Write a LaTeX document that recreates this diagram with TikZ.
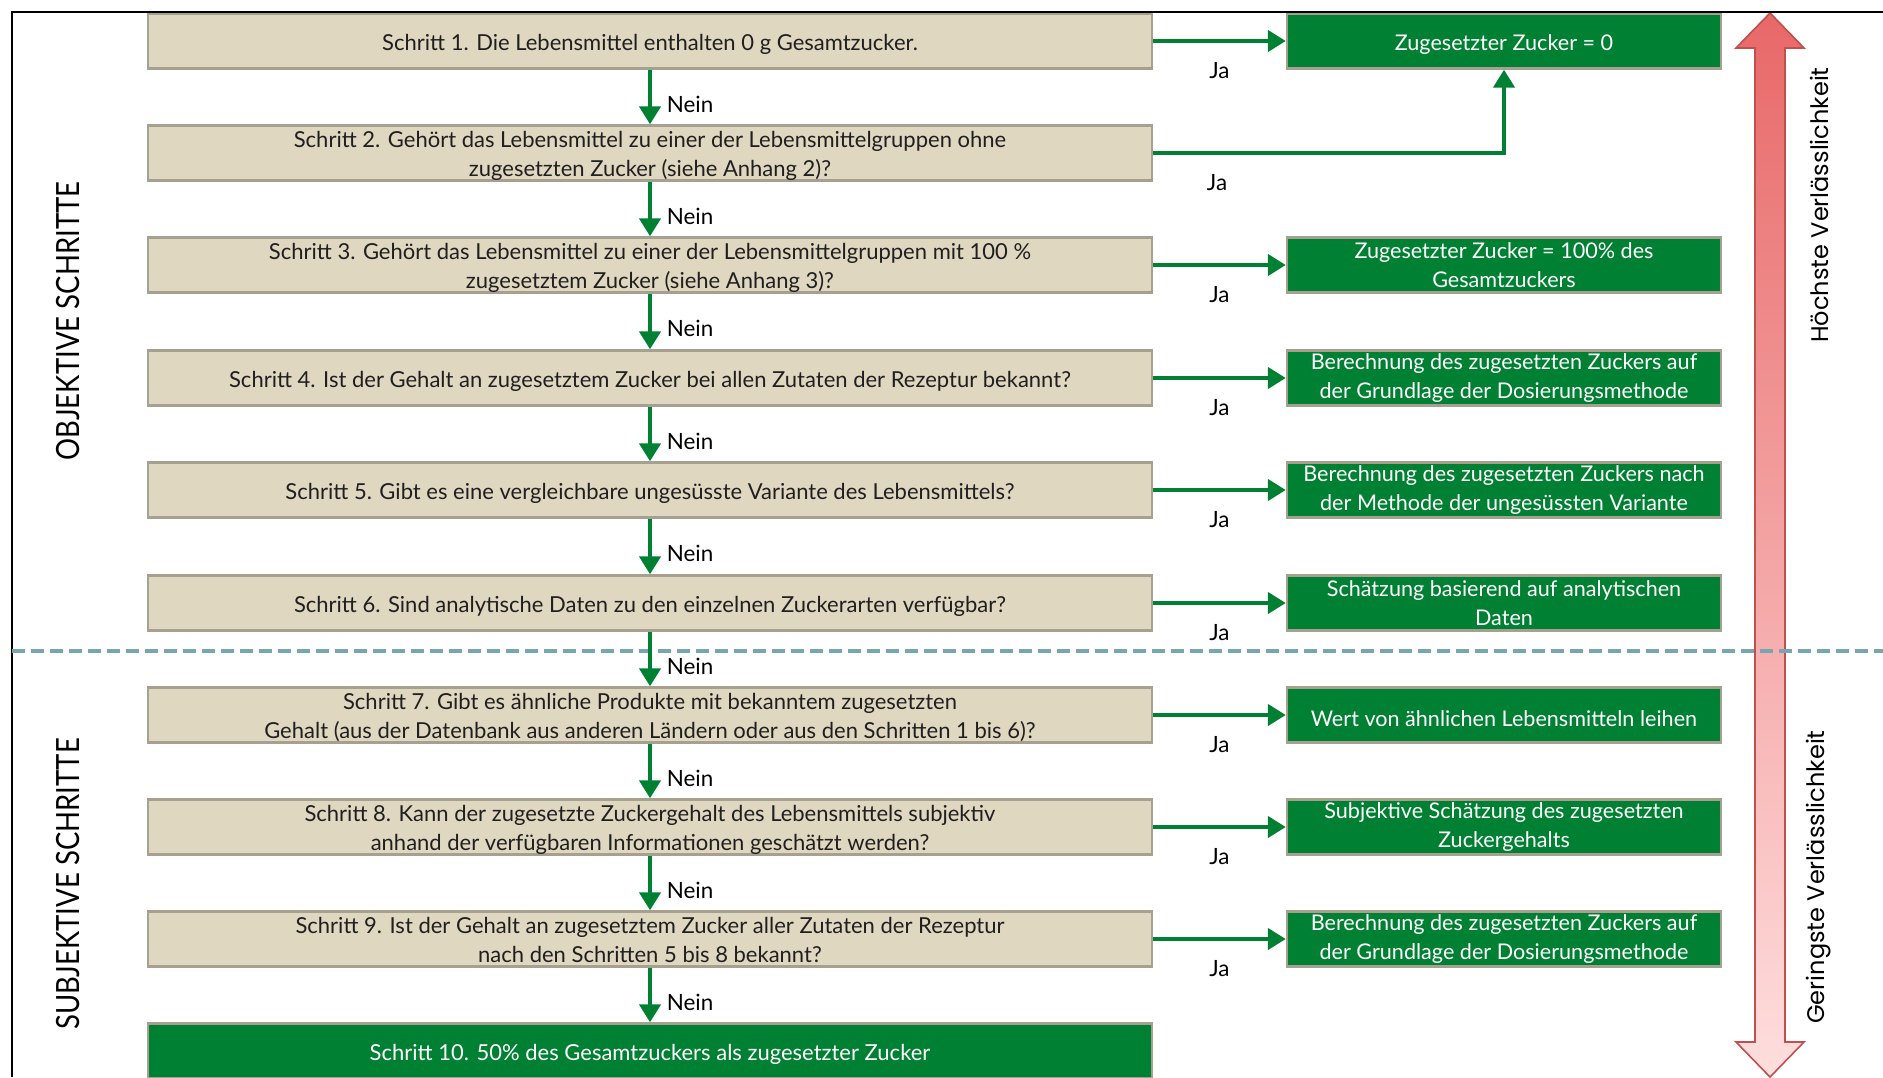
\documentclass[tikz,border=0pt]{standalone}
\usepackage{fontspec}
\setmainfont{Lato}
\newfontfamily\capsfont[FakeStretch=0.86]{Lato}
\newfontfamily\gothicfont{Poppins}
\usetikzlibrary{arrows.meta}
\definecolor{beige}{RGB}{224,215,192}
\definecolor{beigeline}{RGB}{166,160,145}
\definecolor{flowgreen}{RGB}{0,128,50}
\definecolor{dashblue}{RGB}{120,166,174}
\definecolor{redtop}{RGB}{232,104,104}
\definecolor{redbottom}{RGB}{255,222,222}
\definecolor{redline}{RGB}{192,80,77}
\tikzstyle{box}=[draw=beigeline, line width=1.2pt, minimum height=27.5pt, inner sep=0pt, align=center, execute at begin node={\rule{0pt}{11.5pt}}]
\tikzstyle{stepbox}=[box, fill=beige, text=black!88, minimum width=502pt, font=\fontsize{11}{14.5}\selectfont]
\tikzstyle{twoline}=[text height=25.5pt, text depth=2pt]
\tikzstyle{finalbox}=[box, fill=flowgreen, text=white, minimum width=502pt, font=\fontsize{11}{14.5}\selectfont]
\tikzstyle{resultbox}=[box, fill=flowgreen, text=white, minimum width=217pt, font=\fontsize{10.8}{14.5}\selectfont]
\tikzstyle{flow}=[draw=flowgreen, line width=2.2pt, -{Triangle[length=9pt,width=10.5pt]}]
\tikzstyle{nein}=[anchor=west, pos=0.63, xshift=4pt, font=\fontsize{11.2}{14}\selectfont]
\tikzstyle{ja}=[yshift=-15pt, font=\fontsize{11.2}{14}\selectfont]
\tikzstyle{sidelabel}=[rotate=90, font=\capsfont\fontsize{16}{18}\selectfont]
\tikzstyle{trustlabel}=[rotate=90, font=\gothicfont\fontsize{12}{14}\selectfont]

\begin{document}
\begin{tikzpicture}[x=0.5pt, y=-0.5pt]
      \useasboundingbox (0, 0) rectangle (1883, 1077);
      % steps
      \node[stepbox] (step1) at (650, 41) {Schritt 1. Die Lebensmittel enthalten 0 g Gesamtzucker.};
      \node[stepbox, twoline] (step2) at (650, 153) {Schritt 2. Gehört das Lebensmittel zu einer der Lebensmittelgruppen ohne\\zugesetzten Zucker (siehe Anhang 2)?};
      \node[stepbox, twoline] (step3) at (650, 265) {Schritt 3. Gehört das Lebensmittel zu einer der Lebensmittelgruppen mit 100 \%\\zugesetztem Zucker (siehe Anhang 3)?};
      \node[stepbox] (step4) at (650, 378) {Schritt 4. Ist der Gehalt an zugesetztem Zucker bei allen Zutaten der Rezeptur bekannt?};
      \node[stepbox] (step5) at (650, 490) {Schritt 5. Gibt es eine vergleichbare ungesüsste Variante des Lebensmittels?};
      \node[stepbox] (step6) at (650, 603) {Schritt 6. Sind analytische Daten zu den einzelnen Zuckerarten verfügbar?};
      \node[stepbox, twoline] (step7) at (650, 715) {Schritt 7. Gibt es ähnliche Produkte mit bekanntem zugesetzten\\Gehalt (aus der Datenbank aus anderen Ländern oder aus den Schritten 1 bis 6)?};
      \node[stepbox, twoline] (step8) at (650, 827) {Schritt 8. Kann der zugesetzte Zuckergehalt des Lebensmittels subjektiv\\anhand der verfügbaren Informationen geschätzt werden?};
      \node[stepbox, twoline] (step9) at (650, 939) {Schritt 9. Ist der Gehalt an zugesetztem Zucker aller Zutaten der Rezeptur\\nach den Schritten 5 bis 8 bekannt?};
      \node[finalbox] (step10) at (650, 1051) {Schritt 10. 50\% des Gesamtzuckers als zugesetzter Zucker};
      % outcomes
      \node[resultbox] (res1) at (1504, 41) {Zugesetzter Zucker = 0};
      \node[resultbox] (res3) at (1504, 265) {Zugesetzter Zucker = 100\% des\\Gesamtzuckers};
      \node[resultbox] (res4) at (1504, 378) {Berechnung des zugesetzten Zuckers auf\\der Grundlage der Dosierungsmethode};
      \node[resultbox] (res5) at (1504, 490) {Berechnung des zugesetzten Zuckers nach\\der Methode der ungesüssten Variante};
      \node[resultbox] (res6) at (1504, 603) {Schätzung basierend auf analytischen\\Daten};
      \node[resultbox] (res7) at (1504, 715) {Wert von ähnlichen Lebensmitteln leihen};
      \node[resultbox] (res8) at (1504, 827) {Subjektive Schätzung des zugesetzten\\Zuckergehalts};
      \node[resultbox] (res9) at (1504, 939) {Berechnung des zugesetzten Zuckers auf\\der Grundlage der Dosierungsmethode};
      % reliability arrow
      \path[draw=redline, line width=0.8pt, top color=redtop, bottom color=redbottom]
        (1770, 13) -- (1804, 48) -- (1785, 48) -- (1785, 1042) -- (1804, 1042)
        -- (1770, 1077) -- (1736, 1042) -- (1755, 1042) -- (1755, 48) -- (1736, 48) -- cycle;
      \node[trustlabel] (high) at (1819, 205) {Höchste Verlässlichkeit};
      \node[trustlabel] (low) at (1819, 877) {Geringste Verlässlichkeit};
      % frame and divider
      \draw[line width=1pt] (12, 1077) -- (12, 12) -- (1883, 12);
      \draw[dashblue, line width=2.4pt, dash pattern=on 6.5pt off 3pt] (12, 651) -- (1883, 651);
      \node[sidelabel] (objective) at (68, 321) {OBJEKTIVE SCHRITTE};
      \node[sidelabel] (subjective) at (68, 884) {SUBJEKTIVE SCHRITTE};
      % Nein
      \draw[flow] (step1) -- node[nein] {Nein} (step2);
      \draw[flow] (step2) -- node[nein] {Nein} (step3);
      \draw[flow] (step3) -- node[nein] {Nein} (step4);
      \draw[flow] (step4) -- node[nein] {Nein} (step5);
      \draw[flow] (step5) -- node[nein] {Nein} (step6);
      \draw[flow] (step6) -- node[nein] {Nein} (step7);
      \draw[flow] (step7) -- node[nein] {Nein} (step8);
      \draw[flow] (step8) -- node[nein] {Nein} (step9);
      \draw[flow] (step9) -- node[nein] {Nein} (step10);
      % Ja
      \draw[flow] (step1) -- node[ja] {Ja} (res1);
      \draw[flow] (step2) -| node[ja, pos=0.091] {Ja} (res1);
      \draw[flow] (step3) -- node[ja] {Ja} (res3);
      \draw[flow] (step4) -- node[ja] {Ja} (res4);
      \draw[flow] (step5) -- node[ja] {Ja} (res5);
      \draw[flow] (step6) -- node[ja] {Ja} (res6);
      \draw[flow] (step7) -- node[ja] {Ja} (res7);
      \draw[flow] (step8) -- node[ja] {Ja} (res8);
      \draw[flow] (step9) -- node[ja] {Ja} (res9);
    \end{tikzpicture}
\end{document}
